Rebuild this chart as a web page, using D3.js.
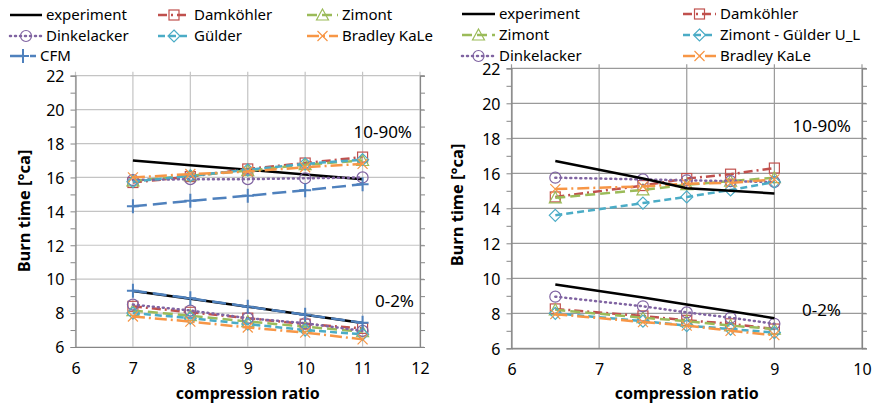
<!DOCTYPE html>
<html><head><meta charset="utf-8">
<script src="https://cdn.jsdelivr.net/npm/d3@7"></script>
<style>body{margin:0;background:#fff}svg{font-family:"Noto Sans",sans-serif}</style>
</head><body><svg id="c" width="875" height="406"></svg>
<script>
// ---------- data ----------
const xTicksLeft = [6,7,8,9,10,11,12];
const xTicksRight = [6,7,8,9,10];
const yTicks = [6,8,10,12,14,16,18,20,22];
const xLabel = "compression ratio";
const yLabel = "Burn time [°ca]";
const bandLabels = ["10-90%","0-2%"];

// left chart
const leftX = [7,8,9,10,11];
const leftExp1090 = [17.0,16.72,16.45,16.18,15.9];
const leftExp002  = [9.3,8.85,8.38,7.9,7.42];
const leftDam1090 = [15.7,16.05,16.5,16.85,17.2];
const leftDam002  = [8.4,8.05,7.7,7.35,7.1];
const leftZim1090 = [15.8,16.1,16.4,16.75,17.0];
const leftZim002  = [8.15,7.85,7.5,7.2,6.9];
const leftDin1090 = [15.85,15.9,15.9,15.95,16.0];
const leftDin002  = [8.5,8.15,7.7,7.4,6.95];
const leftGul1090 = [15.75,16.1,16.45,16.8,17.05];
const leftGul002  = [8.0,7.7,7.35,7.0,6.75];
const leftBra1090 = [16.0,16.2,16.35,16.6,16.8];
const leftBra002  = [7.8,7.5,7.15,6.85,6.45];
const leftCfm1090 = [14.3,14.62,14.92,15.25,15.6];
const leftCfm002  = [9.32,8.87,8.38,7.9,7.43];

// right chart
const rightX = [6.5,7.5,8,8.5,9];
const rightExp1090 = [16.7,15.7,15.15,15.0,14.85];
const rightExp002  = [9.65,8.9,8.5,8.12,7.72];
const rightDam1090 = [14.65,15.3,15.7,15.95,16.3];
const rightDam002  = [8.25,7.85,7.6,7.4,7.1];
const rightZim1090 = [14.6,15.05,15.35,15.55,15.75];
const rightZim002  = [8.2,7.75,7.55,7.3,7.1];
const rightDin1090 = [15.75,15.65,15.6,15.55,15.5];
const rightDin002  = [8.95,8.4,8.05,7.75,7.4];
const rightGul1090 = [13.6,14.3,14.65,15.05,15.5];
const rightGul002  = [8.0,7.55,7.3,7.1,6.9];
const rightBra1090 = [15.1,15.25,15.4,15.45,15.65];
const rightBra002  = [7.95,7.5,7.3,7.0,6.75];

const leftNames  = ["experiment","Damköhler","Zimont","Dinkelacker","Gülder","Bradley KaLe","CFM"];
const rightNames = ["experiment","Damköhler","Zimont","Zimont - Gülder U_L","Dinkelacker","Bradley KaLe"];

// ---------- styles ----------
const ST = {
  exp: {color:"#000000", dash:null, marker:null, w:2.5},
  dam: {color:"#c0504d", dash:"9,4,2,4", marker:"square", w:2.5},
  zim: {color:"#9bbb59", dash:"10,5", marker:"triangle", w:2.5},
  din: {color:"#8064a2", dash:"1,4", marker:"circle", w:2.5, cap:"round"},
  gul: {color:"#4bacc6", dash:"7,4", marker:"diamond", w:2.5},
  bra: {color:"#f79646", dash:"12,4,2,4", marker:"x", w:2.5},
  cfm: {color:"#4f81bd", dash:"14,6", marker:"plus", w:2.5}
};

const svg = d3.select("#c");

function marker(g, type, x, y, color){
  const s = 5;
  if(!type) return;
  const p = g.append("g").attr("transform",`translate(${x},${y})`);
  const base = {fill:"none", stroke:color, "stroke-width":1.2};
  let el;
  if(type==="square") el = p.append("rect").attr("x",-s).attr("y",-s).attr("width",2*s).attr("height",2*s);
  else if(type==="circle") el = p.append("circle").attr("r",s+0.5);
  else if(type==="triangle") el = p.append("path").attr("d",`M0,${-s-1}L${s+1},${s}L${-s-1},${s}Z`);
  else if(type==="diamond") el = p.append("path").attr("d",`M0,${-s-1}L${s+1},0L0,${s+1}L${-s-1},0Z`);
  else if(type==="x") el = p.append("path").attr("d",`M${-s},${-s}L${s},${s}M${s},${-s}L${-s},${s}`);
  else if(type==="plus") { el = p.append("path").attr("d",`M${-s-1},0L${s+1},0M0,${-s-2}L0,${s+2}`); base["stroke-width"]=2; }
  for(const k in base) el.attr(k, base[k]);
}

function chart(opt){
  const g = svg.append("g");
  const x = d3.scaleLinear().domain(opt.xDomain).range([opt.x0,opt.x1]);
  const y = d3.scaleLinear().domain([6,22]).range([opt.y1,opt.y0]);
  // grid
  g.append("g").selectAll("line").data(yTicks).join("line")
    .attr("x1",opt.x0).attr("x2",opt.x1+4).attr("y1",d=>y(d)).attr("y2",d=>y(d))
    .attr("stroke",opt.grid).attr("stroke-width",1.2);
  g.append("g").selectAll("line").data(opt.xTicks).join("line")
    .attr("x1",d=>x(d)).attr("x2",d=>x(d)).attr("y1",opt.y0-4).attr("y2",opt.y1)
    .attr("stroke",opt.grid).attr("stroke-width",1.2);
  // y axis
  const ya = d3.axisLeft(y).tickValues(d3.range(6,23,1)).tickSize(5).tickFormat(d=>d%2===0?d:"");
  const yg = g.append("g").attr("transform",`translate(${opt.x0},0)`).call(ya);
  yg.select(".domain").attr("stroke","#868686").attr("stroke-width",1.2);
  yg.selectAll(".tick line").attr("stroke","#868686");
  yg.selectAll(".tick text").attr("font-size",16).attr("fill","#000").attr("x",-11).attr("dy","0.36em")
    .attr("font-family","Noto Sans");
  // right secondary ticks
  const yr = d3.axisRight(y).tickValues(d3.range(6,23,1)).tickSize(5).tickFormat("");
  const yrg = g.append("g").attr("transform",`translate(${opt.x1},0)`).call(yr);
  yrg.select(".domain").attr("stroke","#868686").attr("stroke-width",1.2);
  yrg.selectAll(".tick line").attr("stroke","#868686");
  // x axis
  const xa = d3.axisBottom(x).tickValues(opt.xTicks).tickSize(0).tickFormat(d3.format("d"));
  const xg = g.append("g").attr("transform",`translate(0,${opt.y1})`).call(xa);
  xg.select(".domain").attr("stroke","#868686").attr("stroke-width",1.2);
  xg.selectAll(".tick text").attr("font-size",16).attr("fill","#000").attr("y",15.5).attr("dy","0.71em")
    .attr("font-family","Noto Sans");
  // axis titles
  g.append("text").attr("x",(opt.x0+opt.x1)/2 + opt.xtOff).attr("y",399).attr("text-anchor","middle")
    .attr("font-size",16).attr("font-weight","bold").text(xLabel);
  g.append("text").attr("transform",`translate(${opt.ytX},${opt.ytY}) rotate(-90)`).attr("text-anchor","middle")
    .attr("font-size",16.5).attr("font-weight","bold").text(yLabel);
  // series
  const line = d3.line().x(d=>x(d[0])).y(d=>y(d[1]));
  opt.series.forEach(s=>{
    const st = ST[s.key];
    [s.a, s.b].forEach(vals=>{
      const pts = opt.xs.map((v,i)=>[v,vals[i]]);
      g.append("path").attr("d",line(pts)).attr("fill","none").attr("stroke",st.color)
        .attr("stroke-width",st.w).attr("stroke-dasharray",st.dash).attr("stroke-linecap",st.cap||"butt");
      pts.forEach(p=>marker(g, st.marker, x(p[0]), y(p[1]), st.color));
    });
  });
  // band labels
  opt.labels.forEach(l=>{
    g.append("text").attr("x",l.x).attr("y",l.y).attr("font-size",17).attr("text-anchor","end").text(l.t);
  });
  // legend
  opt.legend.forEach(l=>{
    const st = ST[l.key];
    const lg = g.append("g");
    lg.append("line").attr("x1",l.x).attr("x2",l.x+l.len).attr("y1",l.y).attr("y2",l.y)
      .attr("stroke",st.color).attr("stroke-width",st.w).attr("stroke-dasharray",st.dash)
      .attr("stroke-linecap",st.cap||"butt");
    marker(lg, st.marker, l.x+l.len/2, l.y, st.color);
    lg.append("text").attr("x",l.x+l.len+4).attr("y",l.y+5).attr("font-size",15).text(l.name);
  });
}

chart({
  xDomain:[6,12], x0:75.5, x1:420, y0:75.7, y1:347, xTicks:xTicksLeft, xs:leftX,
  grid:"#c4c4c4", xtOff:0, ytX:30, ytY:211,
  series:[
    {key:"exp",a:leftExp1090,b:leftExp002},
    {key:"dam",a:leftDam1090,b:leftDam002},
    {key:"zim",a:leftZim1090,b:leftZim002},
    {key:"din",a:leftDin1090,b:leftDin002},
    {key:"gul",a:leftGul1090,b:leftGul002},
    {key:"bra",a:leftBra1090,b:leftBra002},
    {key:"cfm",a:leftCfm1090,b:leftCfm002}
  ],
  labels:[{t:bandLabels[0],x:412,y:138},{t:bandLabels[1],x:414,y:307}],
  legend:[
    {key:"exp",name:leftNames[0],x:10,y:15,len:32},
    {key:"dam",name:leftNames[1],x:158,y:15,len:32},
    {key:"zim",name:leftNames[2],x:307,y:15,len:31},
    {key:"din",name:leftNames[3],x:10,y:36,len:32},
    {key:"gul",name:leftNames[4],x:158,y:36,len:32},
    {key:"bra",name:leftNames[5],x:307,y:36,len:31},
    {key:"cfm",name:leftNames[6],x:10,y:56,len:26}
  ]
});

chart({
  xDomain:[6,10], x0:511.5, x1:862, y0:68.3, y1:348.3, xTicks:xTicksRight, xs:rightX,
  grid:"#9a9a9a", xtOff:0, ytX:463, ytY:205,
  series:[
    {key:"dam",a:rightDam1090,b:rightDam002},
    {key:"zim",a:rightZim1090,b:rightZim002},
    {key:"din",a:rightDin1090,b:rightDin002},
    {key:"gul",a:rightGul1090,b:rightGul002},
    {key:"bra",a:rightBra1090,b:rightBra002},
    {key:"exp",a:rightExp1090,b:rightExp002}
  ],
  labels:[{t:bandLabels[0],x:851,y:132},{t:bandLabels[1],x:841,y:316}],
  legend:[
    {key:"exp",name:rightNames[0],x:462,y:14,len:33},
    {key:"dam",name:rightNames[1],x:683,y:14,len:33},
    {key:"zim",name:rightNames[2],x:462,y:35,len:33},
    {key:"gul",name:rightNames[3],x:683,y:35,len:33},
    {key:"din",name:rightNames[4],x:462,y:56,len:33},
    {key:"bra",name:rightNames[5],x:683,y:56,len:33}
  ]
});
</script></body></html>
